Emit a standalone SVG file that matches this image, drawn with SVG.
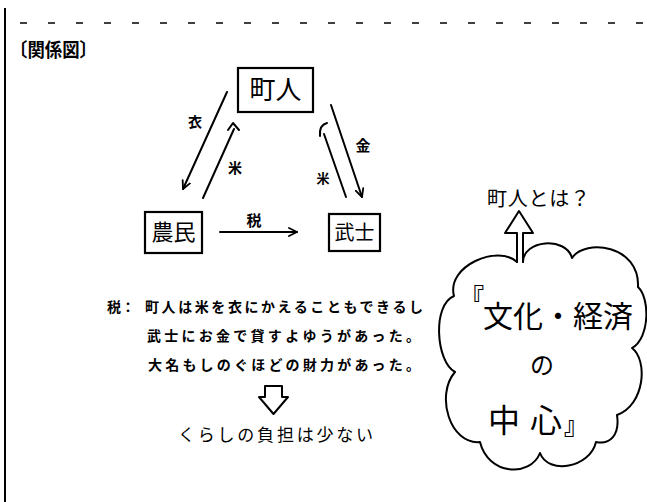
<svg xmlns="http://www.w3.org/2000/svg" width="647" height="502" viewBox="0 0 647 502">
<style>
.t{font-family:"Noto Sans CJK JP","Noto Sans CJK SC",sans-serif;fill:#000}
.b{font-weight:700}
.ln{stroke:#000;stroke-width:2;fill:none;stroke-linecap:round;stroke-linejoin:round}
.box{stroke:#000;stroke-width:2.2;fill:#fff}
</style>
<defs>
<marker id="v" viewBox="0 0 10 10" refX="9" refY="5" markerWidth="10" markerHeight="10" markerUnits="userSpaceOnUse" orient="auto">
<path d="M1,1 L9,5 L1,9" fill="none" stroke="#000" stroke-width="1.8" stroke-linecap="round" stroke-linejoin="round"/>
</marker>
</defs>
<rect width="647" height="502" fill="#fff"/>
<g id="page">
<line x1="5" y1="8" x2="5" y2="502" stroke="#000" stroke-width="2"/>
<line x1="20" y1="23" x2="645" y2="23" stroke="#000" stroke-width="1.6" stroke-dasharray="7 21"/>
</g>
<g id="title"><text class="t b" x="10" y="57" font-size="19" textLength="87" lengthAdjust="spacingAndGlyphs">〔関係図〕</text></g>
<g id="connectors">
<path class="ln" d="M227,92 L183,189" marker-end="url(#v)"/>
<path class="ln" d="M203,198 L234,129"/>
<path class="ln" d="M228,130 L233,123 L239,130"/>
<path class="ln" d="M331,105 L362,197" marker-end="url(#v)"/>
<path class="ln" d="M346,197 L324,134"/>
<path class="ln" d="M320,136 Q319,125 327,123"/>
<path class="ln" d="M220,232 L297,232" marker-end="url(#v)"/>
<text class="t b" x="195" y="127" font-size="14" text-anchor="middle">衣</text>
<text class="t b" x="235" y="173" font-size="14" text-anchor="middle">米</text>
<text class="t b" x="363" y="151" font-size="15" text-anchor="middle">金</text>
<text class="t b" x="323" y="183" font-size="13" text-anchor="middle">米</text>
<text class="t b" x="254" y="226" font-size="15" text-anchor="middle">税</text>
</g>
<g id="node-chonin">
<rect class="box" x="238" y="68" width="75" height="44"/>
<text class="t" x="275.5" y="99" font-size="26" text-anchor="middle">町人</text>
</g>
<g id="node-nomin">
<rect class="box" x="145" y="212" width="57" height="41"/>
<text class="t" x="173.5" y="240" font-size="22" text-anchor="middle">農民</text>
</g>
<g id="node-bushi">
<rect class="box" x="329" y="214" width="51" height="37"/>
<text class="t" x="354.5" y="239.5" font-size="20" text-anchor="middle">武士</text>
</g>
<g id="node-explanation">
<text class="t b" x="107" y="312" font-size="14">税：</text>
<text class="t b" x="145" y="312" font-size="14" textLength="278" lengthAdjust="spacing">町人は米を衣にかえることもできるし</text>
<text class="t b" x="147" y="341" font-size="14" textLength="273" lengthAdjust="spacing">武士にお金で貸すよゆうがあった。</text>
<text class="t b" x="148" y="370" font-size="14" textLength="272" lengthAdjust="spacing">大名もしのぐほどの財力があった。</text>
<path class="ln" d="M265,386 L282,386 L282,397 L288,397 L273.5,414 L259,397 L265,397 Z" stroke-width="1.8"/>
<text class="t" x="178" y="441" font-size="17" textLength="195" lengthAdjust="spacing">くらしの負担は少ない</text>
</g>
<g id="node-cloud">
<path class="ln" d="M517,262 C498,244 446,266 454,296 C432,305 436,362 455,372 C435,395 450,445 480,442 C488,475 530,478 540,453 C548,475 590,468 596,442 C610,445 620,435 617,415 C645,405 648,360 632,348 C650,338 650,298 638,287 C640,245 585,238 572,258 C566,236 523,240 523,262"/>
<path class="ln" d="M517,262 L517,233 L505,233 L519,211 L533,233 L523,233 L523,262"/>
<text class="t" x="487" y="206" font-size="20" textLength="103" lengthAdjust="spacing">町人とは？</text>
<text class="t b" x="460" y="306" font-size="24">『</text>
<text class="t" x="483" y="327" font-size="30" textLength="150" lengthAdjust="spacing">文化・経済</text>
<text class="t" x="542" y="374" font-size="24" text-anchor="middle">の</text>
<text class="t" x="488" y="432" font-size="32" textLength="74" lengthAdjust="spacing">中心</text>
<text class="t b" x="564" y="434" font-size="24">』</text>
</g>
</svg>
